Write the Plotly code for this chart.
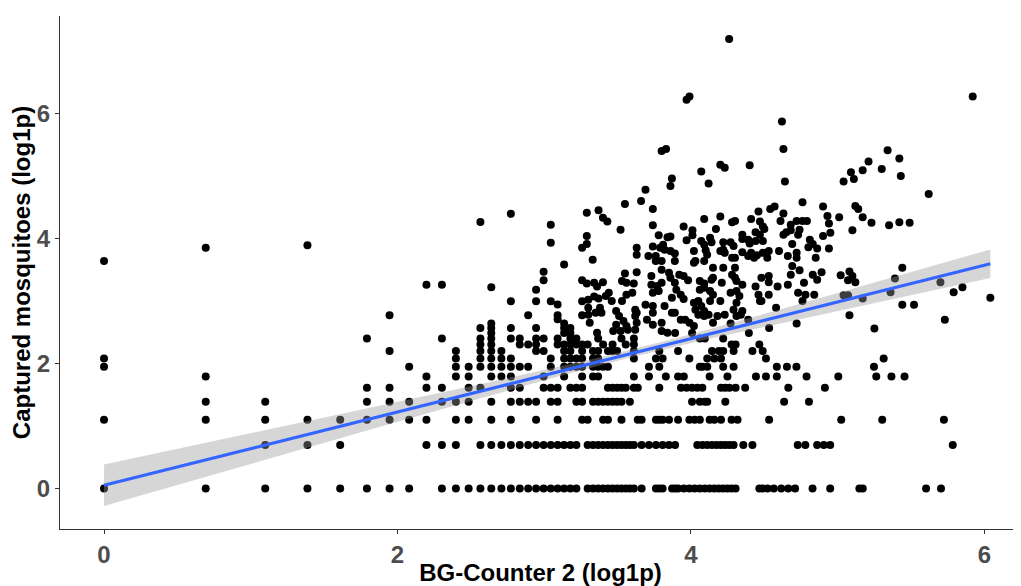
import numpy as np
import plotly.graph_objects as go

# ---------------- data (raw counts; plotted as log1p) ----------------
# Rows of points with a fixed captured-mosquito count (y count) -> BG-Counter counts (x)
row0_x = [0, 1, 2, 3, 4, 5, 6, 7, 9, 10, 11, 12, 13, 14, 15, 16, 17, 18, 19, 20, 21, 22, 23, 24,
          26, 27, 28, 29, 30, 31, 32, 33, 34, 35, 36, 38, 42, 43, 44, 47, 48, 49, 51, 53, 55, 57,
          59, 61, 63, 65, 67, 69, 71, 73, 86, 88, 91, 95, 100, 105, 110, 124, 140, 171, 175, 270, 299]
row1_x = [2, 3, 4, 8, 9, 10, 12, 13, 14, 15, 16, 17, 18, 19, 20, 21, 22, 23, 24, 26, 27, 28, 29,
          30, 31, 32, 33, 34, 35, 36, 38, 40, 42, 44, 46, 48, 56, 58, 60, 62, 64, 66, 68, 70, 72,
          77, 82, 112, 118, 128, 134, 140, 324]
row2_x = [0, 1, 2, 3, 4, 5, 6, 7, 8, 10, 11, 13, 15, 18, 21, 25, 26, 29, 30, 33, 37, 38, 42, 43,
          44, 46, 49, 53, 55, 57, 61, 63, 66, 71, 74, 92, 151, 200, 305]
row3_x = [1, 2, 5, 6, 7, 9, 10, 11, 13, 15, 16, 17, 18, 20, 21, 24, 25, 27, 28, 29, 30, 31, 32,
          33, 35, 54, 57, 59, 60, 68, 102, 121]
row4_x = [5, 6, 8, 9, 11, 12, 15, 16, 19, 20, 21, 23, 24, 25, 30, 31, 32, 33, 34, 36, 37, 43, 50,
          52, 54, 56, 58, 66, 68, 70, 73, 78, 105, 135]
row5_x = [1, 8, 10, 11, 13, 14, 15, 19, 22, 25, 27, 28, 36, 40, 45, 49, 51, 61, 69, 84, 90, 97,
          119, 148, 192, 213, 233]
row6_x = [0, 7, 10, 11, 12, 13, 14, 15, 16, 17, 20, 22, 23, 24, 25, 27, 28, 29, 30, 40, 43, 57,
          58, 60, 67, 72, 97, 104, 111, 189]
row7_x = [27, 28, 36, 42, 44, 53, 60, 63, 66, 90, 202]
row8_x = [27, 28, 30, 31, 32, 36, 43, 49, 62, 65, 67, 72, 82, 88]
row9_x = [26, 29, 31, 34, 36, 71, 73, 86]
row10_x = [28, 33, 36, 57, 59, 67]
row11_x = [48, 54, 80]
row12_x = [92]
row_counts = [0, 1, 2, 3, 4, 5, 6, 7, 8, 9, 10, 11, 12]

# Low BG-Counter counts (x <= 25) with y counts >= 7 (pairs)
low_x = [0, 0, 1, 3, 5, 6, 6, 8, 9, 9, 10, 10,
         12, 12, 12, 12, 12, 12, 13, 13, 13, 13, 13, 13, 13, 13, 14, 14,
         15, 15, 15, 15, 15, 16, 16, 17, 17, 18, 18, 18, 18, 18, 18,
         19, 19, 19, 19, 20, 20, 20, 20, 21, 21, 21, 21, 21,
         22, 22, 22, 22, 22, 22, 22, 23, 23, 23, 23, 23, 23, 24, 24, 24,
         25, 25, 25, 25, 25, 25, 25]
low_y = [7, 37, 46, 48, 10, 8, 15, 25, 10, 25, 7, 8,
         7, 8, 9, 10, 12, 70, 7, 8, 9, 10, 11, 12, 13, 24, 7, 8,
         7, 10, 12, 19, 80, 9, 10, 9, 15, 8, 9, 10, 12, 19, 23,
         8, 10, 27, 31, 7, 19, 50, 67, 9, 10, 14, 15, 18,
         7, 8, 9, 11, 12, 13, 35, 7, 8, 9, 10, 11, 12, 7, 9, 10,
         7, 8, 9, 15, 19, 27, 46]

# Dense cloud, read directly in log1p units
cloud_x = [4.26, 3.97, 3.99, 4.62, 4.63, 3.80, 3.83,
           3.69, 3.66, 3.55, 3.74, 3.37, 3.29, 3.40, 3.43, 3.74, 3.52, 3.78, 3.84, 3.29, 3.29,
           3.63, 3.63, 3.74, 3.79, 3.82, 3.81, 3.71, 3.76, 3.76, 3.80, 3.33, 3.55, 3.63, 3.73,
           3.80, 3.85,
           4.20, 4.23, 4.40, 4.07, 3.87, 3.86, 4.12, 4.64, 4.76, 4.90, 4.54, 4.57, 4.46, 4.63,
           4.93, 4.20, 4.09, 4.41, 4.28, 4.30, 4.47, 4.49, 4.61, 4.68, 4.72, 4.76, 4.79, 4.94,
           3.95, 4.01, 4.01, 4.17, 4.50, 4.68, 4.65, 4.74, 4.73, 4.95, 4.90, 4.44, 4.47, 4.35,
           4.35, 4.63, 3.86, 3.97, 4.07, 4.09, 4.13, 4.14, 4.22, 4.27, 4.29, 4.39, 4.40, 4.44,
           4.49, 4.69, 4.81, 4.83, 4.80, 4.86, 4.94, 3.86, 3.89, 4.02, 4.03, 4.10, 4.11, 4.20,
           4.22, 4.23, 4.28, 4.30, 4.35, 4.39, 4.41, 4.43, 4.45, 4.49, 4.52, 4.53, 4.60, 4.66,
           4.72, 4.72, 4.85, 3.89, 4.02, 4.09, 4.15, 4.22, 4.30, 4.69, 4.74, 4.68, 3.92, 3.95,
           4.15, 4.28, 4.30, 4.48, 4.53, 4.83, 4.89,
           3.29, 3.34, 3.40, 3.36, 3.53, 3.56, 3.61, 3.73, 3.77, 3.80, 3.74, 3.78, 3.30, 3.34,
           3.37, 3.42, 3.44, 3.46, 3.53, 3.56, 3.60, 3.69, 3.62, 3.63, 3.30, 3.30, 3.31, 3.35,
           3.38, 3.39, 3.49, 3.51, 3.54, 3.49, 3.56, 3.52, 3.57, 3.62, 3.63, 3.62, 3.70, 3.74,
           3.80, 3.80, 3.74, 3.74, 3.82, 3.84, 3.36, 3.47,
           3.86, 3.89, 3.98, 4.06, 4.09, 4.14, 4.21, 4.31, 4.35, 4.44, 4.53, 4.59, 4.66, 4.77,
           4.86, 3.90, 3.93, 4.06, 4.09, 4.13, 4.15, 4.27, 4.31, 4.33, 4.46, 4.47, 4.53, 4.73,
           4.78, 4.84, 3.87, 3.95, 4.02, 4.05, 4.07, 4.03, 4.09, 4.13, 4.20, 4.31, 4.29, 4.35,
           4.34, 4.48, 4.58, 4.76, 3.87, 3.89, 3.93, 3.96, 3.99, 4.02, 4.05, 4.09, 4.12, 4.15,
           4.18, 4.23, 4.31, 4.27, 4.39, 4.72,
           5.92, 5.34, 5.42, 5.21, 5.09, 5.11, 5.17, 5.04, 5.30, 5.43, 5.62, 5.12, 5.14, 5.01,
           5.17, 5.23, 5.35, 5.42, 5.49, 5.10, 5.02, 5.08, 5.10, 5.07, 5.12, 5.04, 5.07, 5.17,
           5.36, 5.39, 5.44, 5.44, 5.52, 5.08, 5.25, 5.70, 5.79, 5.85, 6.04, 5.73]
cloud_y = [7.19, 6.22, 6.27, 5.87, 5.43, 5.40, 5.43,
           4.78, 4.60, 4.55, 4.47, 4.45, 4.41, 4.33, 4.27, 4.21, 4.14, 4.05, 4.02, 4.04, 3.91,
           3.85, 3.74, 3.87, 3.85, 3.82, 3.90, 3.72, 3.72, 3.64, 3.64, 3.66, 3.44, 3.46, 3.40,
           3.50, 3.45,
           5.18, 5.13, 5.17, 5.07, 4.96, 4.84, 4.88, 4.91, 4.58, 4.51, 4.47, 4.51, 4.43, 4.40,
           4.36, 4.35, 4.31, 4.31, 4.26, 4.28, 4.27, 4.19, 4.28, 4.22, 4.28, 4.28, 4.28, 4.24,
           4.19, 4.13, 4.05, 4.15, 4.15, 4.13, 4.10, 4.14, 4.06, 4.09, 4.04, 4.10, 4.06, 4.06,
           3.99, 4.06, 4.03, 3.97, 3.96, 3.90, 4.01, 3.94, 3.94, 3.94, 3.88, 3.98, 3.92, 3.96,
           3.96, 3.91, 3.98, 3.91, 3.86, 3.84, 3.84, 3.80, 3.76, 3.80, 3.64, 3.81, 3.74, 3.80,
           3.82, 3.77, 3.69, 3.69, 3.78, 3.72, 3.77, 3.69, 3.73, 3.77, 3.69, 3.80, 3.80, 3.72,
           3.77, 3.69, 3.69, 3.64, 3.61, 3.64, 3.53, 3.53, 3.53, 3.56, 3.49, 3.42, 3.42, 3.40,
           3.37, 3.42, 3.37, 3.37, 3.40, 3.42, 3.46,
           3.28, 3.29, 3.30, 3.23, 3.32, 3.29, 3.28, 3.26, 3.24, 3.29, 3.13, 3.16, 3.02, 3.07,
           3.04, 3.08, 3.13, 3.00, 3.00, 3.10, 3.13, 2.94, 2.86, 2.81, 2.89, 2.78, 2.65, 2.81,
           2.89, 2.81, 2.84, 2.76, 2.68, 2.62, 2.60, 2.52, 2.54, 2.76, 2.65, 2.54, 2.70, 2.62,
           2.52, 2.65, 2.92, 2.81, 2.92, 2.49, 2.49, 2.52,
           3.37, 3.29, 3.33, 3.32, 3.28, 3.34, 3.29, 3.32, 3.26, 3.23, 3.30, 3.23, 3.26, 3.29,
           3.34, 3.18, 3.10, 3.18, 3.21, 3.16, 3.10, 3.13, 3.16, 3.08, 3.10, 3.00, 3.10, 3.13,
           3.10, 3.10, 3.05, 3.03, 2.97, 3.00, 2.92, 2.86, 2.84, 3.00, 3.00, 2.97, 2.86, 2.84,
           2.78, 3.00, 2.89, 3.00, 2.81, 2.81, 2.70, 2.70, 2.65, 2.60, 2.78, 2.76, 2.78, 2.65,
           2.76, 2.78, 2.76, 2.64, 2.70, 2.64,
           6.27, 5.41, 5.28, 5.23, 5.06, 4.95, 5.09, 4.91, 5.11, 5.00, 4.71, 4.52, 4.47, 4.34,
           4.34, 4.25, 4.21, 4.26, 4.25, 4.13, 3.41, 3.47, 3.40, 3.33, 3.30, 3.09, 3.09, 3.04,
           3.14, 3.36, 3.53, 2.94, 2.94, 2.77, 2.56, 3.30, 3.14, 3.22, 3.05, 2.70]

# Fitted linear trend (geom_smooth, method = "lm")
fit_x_ends = [0.0, 6.04]          # fitted over the observed x range
fit_y_ends = [0.05, 3.595]        # fitted values at the two ends
band_half_ends = [0.333, 0.23]    # 95% CI half-width at the two ends
band_center_x = 3.6               # x where the CI band is narrowest

x_tick_vals = [0, 2, 4, 6]
y_tick_vals = [0, 2, 4, 6]
x_title = "BG-Counter 2 (log1p)"
y_title = "Captured mosquitoes (log1p)"

# ---------------- assemble ----------------
rows = [row0_x, row1_x, row2_x, row3_x, row4_x, row5_x, row6_x, row7_x, row8_x,
        row9_x, row10_x, row11_x, row12_x]
xs, ys = [], []
for yc, rx in zip(row_counts, rows):
    xs += list(np.log1p(rx))
    ys += [np.log1p(yc)] * len(rx)
xs += list(np.log1p(low_x))
ys += list(np.log1p(low_y))
xs += cloud_x
ys += cloud_y
X = np.array(xs, dtype=float)
Y = np.array(ys, dtype=float)

# fitted line and its confidence band (half-width = sqrt(a + b (x - xc)^2))
x0, x1 = fit_x_ends
slope = (fit_y_ends[1] - fit_y_ends[0]) / (x1 - x0)
intercept = fit_y_ends[0] - slope * x0
d0 = (x0 - band_center_x) ** 2
d1 = (x1 - band_center_x) ** 2
b = (band_half_ends[0] ** 2 - band_half_ends[1] ** 2) / (d0 - d1)
a = band_half_ends[0] ** 2 - b * d0
xg = np.linspace(x0, x1, 100)
yg = intercept + slope * xg
half = np.sqrt(a + b * (xg - band_center_x) ** 2)
upper = yg + half
lower = yg - half

fig = go.Figure()
fig.add_trace(go.Scatter(x=X, y=Y, mode="markers",
                         marker=dict(size=8, color="black", line=dict(width=0)),
                         hoverinfo="skip", showlegend=False))
fig.add_trace(go.Scatter(x=np.concatenate([xg, xg[::-1]]),
                         y=np.concatenate([upper, lower[::-1]]),
                         fill="toself", fillcolor="rgba(153,153,153,0.4)",
                         line=dict(width=0), mode="lines", hoverinfo="skip",
                         showlegend=False))
fig.add_trace(go.Scatter(x=xg, y=yg, mode="lines",
                         line=dict(color="#3366FF", width=3.2),
                         hoverinfo="skip", showlegend=False))

font_family = "Liberation Sans, Arial, sans-serif"
axis_common = dict(showgrid=False, zeroline=False, showline=True, linecolor="#333333",
                   linewidth=1.2, ticks="outside", ticklen=4, tickwidth=1.2,
                   tickcolor="#333333",
                   tickfont=dict(family=font_family, size=24, color="#4D4D4D", weight="bold"),
                   automargin=False)

# the page body adds an 8 px offset, so the figure is sized/margined to compensate
fig.update_layout(
    width=1013, height=578,
    margin=dict(l=52, r=0, t=8, b=57),
    paper_bgcolor="white", plot_bgcolor="white",
    font=dict(family=font_family),
    xaxis=dict(range=[-0.30, 6.249], tickvals=x_tick_vals,
               title=dict(text=x_title, standoff=2,
                          font=dict(family=font_family, size=24, color="black", weight="bold")),
               **axis_common),
    yaxis=dict(range=[-0.65, 7.56], tickvals=y_tick_vals,
               title=dict(text=y_title, standoff=6,
                          font=dict(family=font_family, size=24, color="black", weight="bold")),
               **axis_common),
)

fig.write_html("out.html")
